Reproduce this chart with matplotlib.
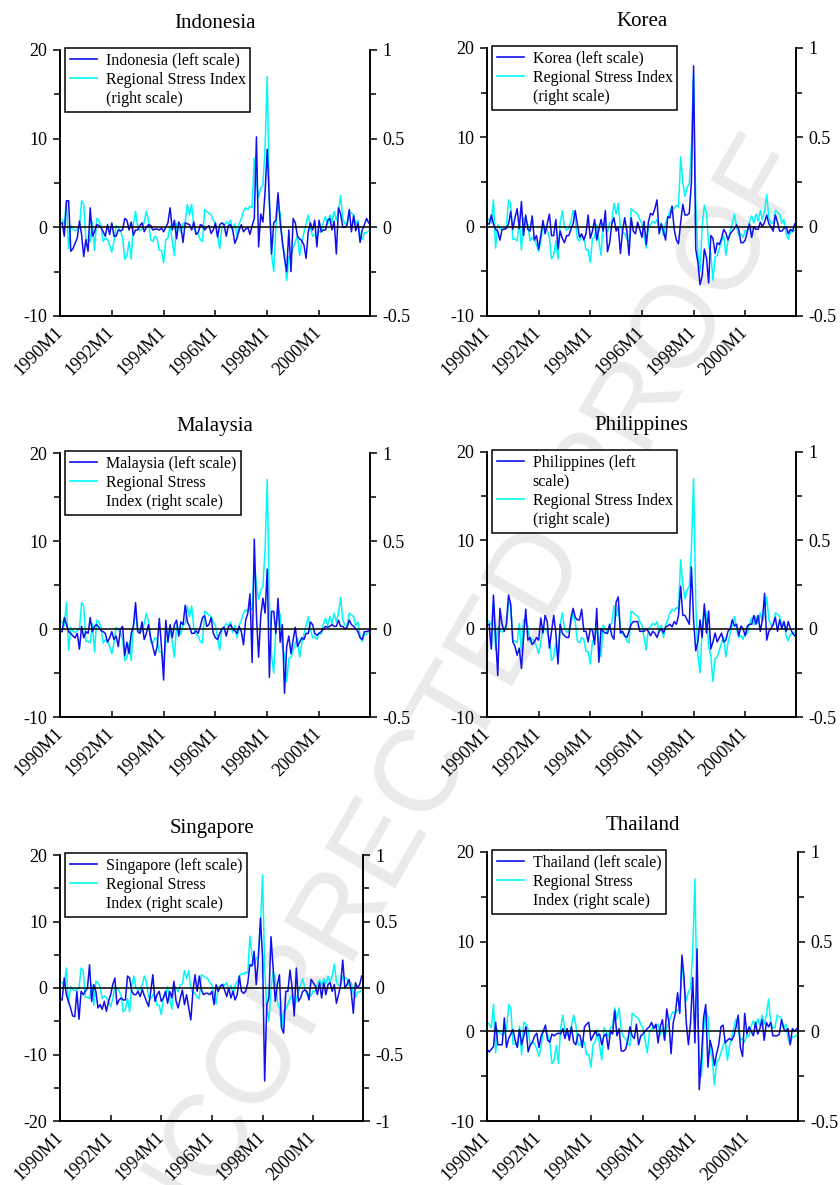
import matplotlib
matplotlib.use('Agg')
import matplotlib.pyplot as plt
from matplotlib.lines import Line2D
from matplotlib.ticker import MultipleLocator, FuncFormatter

plt.rcParams['font.family'] = ['Liberation Serif', 'DejaVu Serif']
plt.rcParams['axes.unicode_minus'] = False

# monthly sample 1990M1 .. 2001M12
months = [f"{y}M{m}" for y in range(1990, 2002) for m in range(1, 13)]
tick_labels = ['1990M1', '1992M1', '1994M1', '1996M1', '1998M1', '2000M1']

# regional stress index (right scale)
regional = [
    0.05, 0.04, 0.02, 0.15, -0.12, 0.01, -0.01, -0.02, -0.01, 0.00, 0.15, 0.13,
    -0.07, -0.07, -0.08, 0.03, -0.13, 0.05, 0.04, 0.01, -0.08, -0.06, -0.07, -0.10,
    -0.14, -0.08, 0.01, 0.00, -0.02, -0.06, -0.18, -0.16, -0.08, -0.18, 0.02, 0.09,
    0.00, -0.02, -0.01, 0.03, 0.09, 0.04, -0.07, -0.08, -0.05, -0.06, -0.13, -0.13,
    -0.20, -0.07, -0.06, 0.01, -0.08, -0.16, 0.02, 0.00, -0.03, 0.02, 0.03, 0.13,
    0.07, 0.13, 0.00, -0.03, -0.04, -0.07, -0.08, 0.10, 0.09, 0.08, 0.07, 0.04,
    0.02, -0.05, -0.12, 0.00, 0.01, 0.03, 0.02, 0.04, -0.02, 0.02, -0.05, 0.02,
    0.05, 0.09, 0.11, 0.10, 0.12, 0.11, 0.39, 0.25, 0.17, 0.22, 0.24, 0.45,
    0.85, 0.15, -0.15, -0.25, 0.00, 0.12, 0.08, -0.10, -0.15, -0.30, -0.17, -0.16,
    -0.12, -0.08, -0.05, -0.16, -0.08, -0.03, 0.02, 0.07, 0.00, -0.05, -0.04, -0.06,
    -0.02, -0.03, 0.03, 0.06, 0.02, 0.07, 0.03, 0.09, 0.04, 0.09, 0.18, 0.05,
    0.02, 0.02, 0.09, 0.08, 0.07, 0.02, 0.04, -0.04, -0.07, -0.03, -0.03, -0.02,
]

indonesia = [
    0.5, 0.5, -1.0, 3.0, 3.0, -2.7, -2.4, -1.8, -1.2, 0.7, -0.8, -3.3,
    -1.4, -2.7, 2.2, -1.0, -0.5, 0.3, 0.2, 0.0, -0.5, -1.0, 0.3, -0.8,
    0.5, -1.0, -1.0, -0.3, -0.4, -0.3, 1.0, 0.8, -0.3, 0.6, -0.9, -0.3,
    -0.3, 0.2, 0.5, -0.5, 0.0, 0.3, 0.2, -0.3, -0.2, -0.2, -0.3, -0.1,
    -0.5, 0.0, 0.5, 2.2, -0.3, 0.8, -1.3, 0.6, 0.1, -1.7, 0.5, 0.4,
    0.3, -0.3, 0.6, -0.8, -0.6, 0.3, 0.2, -0.3, 0.0, 0.2, -0.7, -0.3,
    0.5, -1.1, 0.3, 0.5, 0.3, -1.0, 0.2, 0.3, -0.3, -1.8, -1.2, -0.3,
    0.3, -0.5, -0.2, 0.0, -0.8, 0.2, 1.0, 10.2, -2.2, 1.5, 0.6, 4.0,
    8.8, 2.8, -3.0, 0.5, 0.8, 3.9, 0.5, -1.5, -3.5, -5.0, -0.3, -5.0,
    1.0, 0.5, -1.0, -1.3, -1.5, -2.0, -3.5, -0.5, 0.5, -0.3, 0.8, -2.2,
    0.8, -0.5, -0.3, -0.3, 0.8, 1.0, -0.3, 0.7, -3.0, 2.2, 1.5, 0.0,
    0.0, 0.3, 2.0, -0.5, 1.3, -0.4, 0.5, -1.7, -0.3, 0.3, 1.0, 0.5,
]

korea = [
    0.3, 0.3, 1.3, 0.3, -0.3, -0.5, -1.5, -0.3, -0.3, -0.2, 0.3, 1.7,
    -0.3, 1.0, 2.0, -0.2, 2.8, -1.0, 1.3, -0.3, -0.5, 1.2, -1.5, -1.0,
    -2.5, -1.0, 0.7, -0.8, 0.3, 1.4, -1.0, -1.0, 0.8, -2.5, -0.5, -1.3,
    -1.8, -1.0, -1.0, -0.3, 0.3, 1.8, 0.3, -1.2, -0.8, -1.5, -0.8, 1.3,
    -1.3, -0.5, 0.8, -1.5, -0.3, 0.8, -0.5, 1.8, -2.8, -1.8, 0.3, 1.0,
    -0.5, 0.0, -3.0, -0.5, 1.0, -0.5, -3.2, 1.0, -0.5, -0.8, 0.5, -0.3,
    -1.2, 0.6, -2.0, 0.5, 1.5, 1.3, 2.0, 3.0, -0.8, 0.3, -0.5, -1.5,
    1.1, 1.0, 2.3, -0.3, -1.5, -1.9, 0.5, 2.5, 1.3, 1.3, 1.5, 5.0,
    18.0, -2.5, -4.0, -6.5, -5.5, -2.5, -3.5, -6.3, -1.0, -1.3, -3.0, -1.8,
    -2.0, -1.3, -0.3, -0.7, -1.5, -0.8, -0.5, -0.2, 0.2, -0.3, -1.8, -1.8,
    -1.5, -0.5, 0.3, -1.2, 0.0, -0.3, -0.3, 0.5, 0.0, 0.5, 1.3, 0.3,
    0.0, -0.5, 1.3, 0.5, -0.5, -0.5, -0.2, 0.0, -0.8, -0.3, -0.5, 0.3,
]

malaysia = [
    -0.3, -0.3, 1.3, 0.5, -0.3, -0.5, -0.8, -1.0, -0.5, -2.3, 0.3, -1.0,
    -0.3, -0.5, 1.3, -0.3, 0.3, 0.5, 0.2, -0.2, -0.3, -0.5, -1.5, -1.0,
    -0.3, -1.2, -0.8, -2.0, 0.0, 0.3, -3.0, -1.5, -2.8, -0.5, 0.3, 3.0,
    -0.3, -0.5, 0.8, -1.2, -0.5, 0.5, -1.0, -2.0, -3.0, -2.0, 1.2, -2.0,
    -5.8, 1.0, -1.5, 0.5, -1.0, 0.5, 1.0, -0.8, 0.8, 0.5, 2.7, 0.8,
    0.3, -0.5, -0.5, -0.2, -0.5, 0.3, 1.3, 1.5, 0.3, 0.5, 1.3, -0.5,
    -1.0, -1.2, -0.5, 0.0, 0.2, -0.8, 0.2, 0.5, 0.0, -0.2, -0.5, 0.3,
    -0.3, -1.8, 1.0, 1.8, 4.0, -3.8, 10.2, 1.5, -3.2, 1.5, 3.5, 1.8,
    6.8, -5.5, 2.0, 2.0, -0.5, 3.5, -1.5, 0.5, -7.3, -2.0, -0.8, -2.8,
    -1.2, 0.2, -2.0, -1.5, -1.0, -1.2, -0.5, -0.5, 0.8, 0.5, -0.5, -0.7,
    -0.5, -0.3, 0.0, 0.3, 0.2, 0.3, 0.5, 0.3, 0.3, 1.0, 0.3, 0.3,
    0.0, 0.2, 1.0, 0.5, 0.3, 0.0, -0.3, -1.0, -1.2, -0.3, -0.3, -0.2,
]

philippines = [
    0.5, 0.5, -2.3, 3.8, -1.0, -5.3, 2.3, 0.5, -0.3, 0.5, 3.8, 2.8,
    -1.5, -2.0, -3.0, -2.2, -4.5, -1.0, 2.2, -1.3, -1.0, -1.8, -1.5, -1.0,
    -1.3, 1.2, -0.5, 1.5, 0.8, -2.2, -0.3, 1.5, -0.5, -4.0, 0.5, -0.5,
    -0.8, -1.0, -1.0, 1.2, 2.3, 1.3, 1.0, 1.0, 2.2, -0.3, -0.3, -1.5,
    0.0, -0.2, -1.8, 2.3, -3.8, 0.0, -0.3, -0.5, -0.5, 0.5, -0.8, -1.2,
    3.0, 3.6, -0.5, -0.3, -0.8, -1.0, -0.3, 0.5, 0.8, 0.8, 0.8, -0.3,
    -0.3, -0.3, 0.0, -0.3, -0.8, -0.3, -0.5, -1.0, -0.3, 0.0, -0.5, 0.2,
    0.3, 0.5, 0.2, 0.8, 0.5, 1.5, 4.8, 1.5, 1.5, 1.0, 0.5, 7.0,
    1.0, -2.5, -1.5, 1.0, -1.0, 2.8, -0.5, 2.0, -2.3, -1.5, -0.5, -1.5,
    -1.0, -0.5, -1.5, -1.3, -0.3, 0.0, 1.0, 0.3, 0.5, -0.8, 0.3, 0.0,
    -0.8, 0.3, 0.5, 0.5, 1.5, 0.5, 1.5, -0.3, 1.0, 4.0, -1.3, -0.3,
    0.0, 0.5, 1.3, -0.3, 1.0, 0.0, 0.8, -0.3, 0.8, 0.0, -0.5, -0.8,
]

singapore = [
    -1.8, -1.8, 1.5, -1.0, -2.0, -3.0, -4.2, -4.3, -0.5, -4.7, -0.5, -1.0,
    -0.5, 0.0, 3.5, -2.0, 0.5, -0.5, -3.0, -2.5, -3.2, -2.0, -3.5, -2.0,
    -1.0, 0.5, 1.5, -2.5, -1.8, -1.5, -1.8, -1.8, 1.8, 1.5, -0.5, -1.0,
    -1.0, -0.5, -1.3, -0.2, -1.2, -2.0, -2.8, -0.5, 2.0, -2.0, -1.0, -0.5,
    -2.0, -1.5, -0.5, -2.3, -0.5, -1.5, 1.0, -2.0, -3.0, -1.5, -0.3, -2.5,
    -1.0, -3.0, -4.8, -0.5, 2.0, -0.5, 1.8, -0.3, -1.0, -0.8, -0.8, -1.0,
    -0.5, -2.5, 0.5, -0.5, 0.3, 0.5, -0.3, -1.3, 0.0, -1.5, -0.5, -1.8,
    -1.0, 1.8, -0.5, -0.8, -0.5, 0.8, 3.5, 3.3, 5.5, 0.5, 4.5, 10.5,
    4.5, -14.0, -2.5, -1.5, 7.7, 3.0, -2.0, 0.5, 2.0, -6.0, -6.8, -0.5,
    -0.5, 2.7, 0.0, -4.2, 3.0, -2.0, -1.5, -0.5, -0.3, -0.5, -1.8, 1.3,
    0.8, 0.3, -1.0, 0.8, -1.5, 0.8, -1.0, 0.5, 0.8, -0.5, 0.5, -2.3,
    -1.0, 0.5, 4.2, 0.0, 0.5, 1.3, -0.5, -3.8, 0.8, 0.0, 0.5, 1.8,
]

thailand = [
    -2.0, -2.3, -2.0, -1.7, 1.0, -1.5, -1.5, -1.5, 1.5, -1.8, -0.8, -0.3,
    0.2, -1.0, -1.8, 0.2, -1.5, -0.5, 0.5, -2.3, -1.5, -1.2, -0.5, -0.2,
    -1.8, -0.5, 0.0, 0.7, -1.0, -1.2, -0.3, -0.5, -0.3, -0.2, -0.3, 0.3,
    -0.8, 0.3, -1.0, 0.5, -1.2, -1.5, -0.3, -0.5, -1.8, 0.5, 0.8, 1.0,
    -1.0, -0.5, 0.0, -0.5, -0.3, -1.5, -0.5, -0.3, -2.0, 0.0, -0.3, 2.3,
    -0.5, 0.3, -2.2, -2.2, -2.0, -1.0, 0.5, -0.5, -0.8, 0.8, -1.5, -0.5,
    -0.3, 0.0, 0.3, 0.5, 1.0, 0.3, 0.8, -1.3, 0.5, 1.3, -1.0, 2.5,
    1.0, -2.5, 1.0, 2.0, 4.3, 2.0, 8.5, 6.0, 1.0, -1.5, 1.0, 6.0,
    -1.3, 9.2, -6.5, -3.0, 1.5, 3.0, -4.0, -1.0, -2.0, -3.8, -2.5, -1.5,
    0.5, 0.7, -1.3, -1.0, -0.8, -1.0, -0.5, 0.5, 1.8, -1.8, -2.8, 2.0,
    -0.3, 0.5, 0.0, -0.5, 1.0, -0.3, 0.3, 1.3, -1.0, 1.0, 0.5, 1.0,
    -0.5, -0.5, -0.5, -0.3, 1.3, 0.3, 0.0, 0.3, -1.5, 0.3, 0.0, 0.3,
]

BLUE = '#1010ee'
CYAN = '#00f8f8'

# name, series, legend lines (first line gets the blue handle), regional lines,
# left limits, right limits, axes rect in pixels (left, top, right, bottom)
panels = [
    ('Indonesia', indonesia, ['Indonesia (left scale)'], ['Regional Stress Index', '(right scale)'],
     (-10, 20), (-0.5, 1), (60, 50, 370, 316)),
    ('Korea', korea, ['Korea (left scale)'], ['Regional Stress Index', '(right scale)'],
     (-10, 20), (-0.5, 1), (487, 48, 796, 316)),
    ('Malaysia', malaysia, ['Malaysia (left scale)'], ['Regional Stress', 'Index (right scale)'],
     (-10, 20), (-0.5, 1), (60, 453, 370, 717)),
    ('Philippines', philippines, ['Philippines (left', 'scale)'], ['Regional Stress Index', '(right scale)'],
     (-10, 20), (-0.5, 1), (487, 452, 796, 717)),
    ('Singapore', singapore, ['Singapore (left scale)'], ['Regional Stress', 'Index (right scale)'],
     (-20, 20), (-1, 1), (60, 855, 363, 1121)),
    ('Thailand', thailand, ['Thailand (left scale)'], ['Regional Stress', 'Index (right scale)'],
     (-10, 20), (-0.5, 1), (487, 852, 798, 1121)),
]

W, H = 840, 1185
fig = plt.figure(figsize=(W / 100, H / 100), dpi=100)

# proof watermark behind everything
fig.text(0.533, 0.377, 'UNCORRECTED PROOF', rotation=60, fontsize=84,
         family='Liberation Sans', color='#eaeaea', ha='center', va='center', zorder=-1)

x = list(range(len(months)))
ticks = [months.index(t) for t in tick_labels]
fmt = FuncFormatter(lambda v, p: f"{v:g}")

for name, series, own_lab, reg_lab, ylim, ylim2, (l, t, r, b) in panels:
    ax = fig.add_axes([l / W, 1 - b / H, (r - l) / W, (b - t) / H])
    ax2 = ax.twinx()
    ax.set_zorder(ax2.get_zorder() + 1)
    ax.patch.set_visible(False)
    ax2.patch.set_visible(False)

    ax2.plot(x, regional, color=CYAN, lw=1.1)
    ax.plot(x, series, color=BLUE, lw=1.1)
    ax.axhline(0, color='black', lw=1.1)

    ax.set_xlim(0, 143.6)
    ax.set_ylim(*ylim)
    ax2.set_ylim(*ylim2)

    ax.set_xticks(ticks)
    ax.set_xticklabels(tick_labels, rotation=45, ha='right', va='center', rotation_mode='anchor')
    ax.yaxis.set_major_locator(MultipleLocator(10))
    ax.yaxis.set_minor_locator(MultipleLocator(5))
    ax.yaxis.set_major_formatter(fmt)
    ax2.yaxis.set_major_locator(MultipleLocator(0.5))
    ax2.yaxis.set_minor_locator(MultipleLocator(0.25))
    ax2.yaxis.set_major_formatter(fmt)

    ax.tick_params(axis='x', direction='in', length=4, width=1.1, labelsize=13, pad=10)
    ax.tick_params(axis='y', which='major', direction='out', length=5, width=1.1, labelsize=13, pad=4)
    ax.tick_params(axis='y', which='minor', direction='out', length=4, width=1.1)
    ax2.tick_params(axis='y', which='major', direction='out', length=5, width=1.1, labelsize=13, pad=4)
    ax2.tick_params(axis='y', which='minor', direction='out', length=4, width=1.1)

    for a in (ax, ax2):
        a.spines['top'].set_visible(False)
        for s in ('left', 'right', 'bottom'):
            a.spines[s].set_linewidth(1.2)

    ax.set_title(name, fontsize=15, pad=16)

    handles = [Line2D([], [], color=BLUE, lw=1.2)]
    labels = [own_lab[0]]
    for extra in own_lab[1:]:
        handles.append(Line2D([], [], color='none'))
        labels.append(extra)
    handles.append(Line2D([], [], color=CYAN, lw=1.2))
    labels.append(reg_lab[0])
    for extra in reg_lab[1:]:
        handles.append(Line2D([], [], color='none'))
        labels.append(extra)

    leg = ax.legend(handles, labels, loc='upper left', bbox_to_anchor=(0.016, 1.008),
                    borderaxespad=0, fontsize=11.5, fancybox=False, framealpha=1,
                    edgecolor='black', handlelength=1.7, handletextpad=0.55,
                    labelspacing=0.2, borderpad=0.3)
    leg.get_frame().set_linewidth(1.1)

plt.savefig('out.png', dpi=100)
